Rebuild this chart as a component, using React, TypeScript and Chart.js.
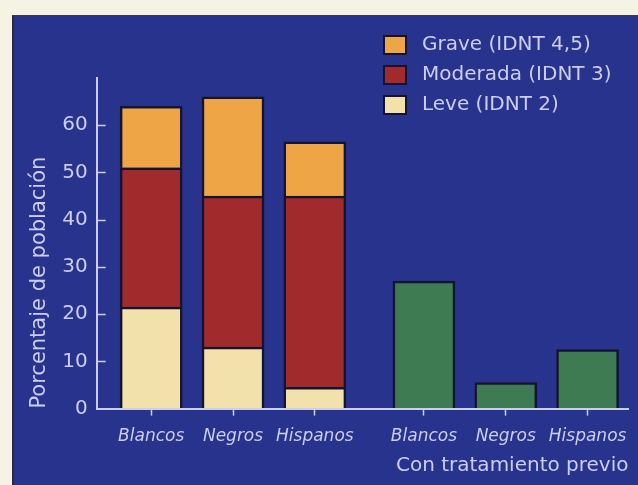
import React, { useEffect, useRef } from 'react';
import { Chart, registerables } from 'chart.js';

Chart.register(...registerables);

// ---- data ----
const categories = ['Blancos', 'Negros', 'Hispanos'];
const groupTitle = 'Con tratamiento previo';
const seriesNames = ['Leve (IDNT 2)', 'Moderada (IDNT 3)', 'Grave (IDNT 4,5)'];
const leve = [21.5, 13, 4.5];
const moderada = [29.5, 32, 40.5];
const grave = [13, 21, 11.5];
const previo = [27, 5.5, 12.5];
const yTickValues = [0, 10, 20, 30, 40, 50, 60];
const yAxisTitle = 'Porcentaje de población';

// ---- style ----
const PAGE_BG = '#f5f3e3';
const PANEL_BG = '#27338c';
const INK = '#cdcdf0';
const BAR_EDGE = '#141430';
const seriesColors = ['#f3e1ab', '#a12a2d', '#eea546'];
const previoColor = '#3e7a52';
const FONT = '"DejaVu Sans", sans-serif';

// slot layout: each bar is 3 slots apart, one extra slot between groups
const SLOT_STEP = 3;
const GROUP_GAP = 1;
const slotOf = (g: number, i: number) => g * (categories.length * SLOT_STEP + GROUP_GAP) + i * SLOT_STEP;
const allSlots = [...categories.map((_, i) => slotOf(0, i)), ...categories.map((_, i) => slotOf(1, i))];
const allLabels = [...categories, ...categories];

const legendPlugin = {
  id: 'boxLegend',
  afterDraw(chart: any) {
    const ctx = chart.ctx;
    ctx.save();
    const order = [2, 1, 0];
    const x0 = 385;
    const y0 = 45;
    const rowH = 30;
    order.forEach((si, r) => {
      const cy = y0 + r * rowH;
      ctx.fillStyle = BAR_EDGE;
      ctx.fillRect(x0 - 2, cy - 10, 24, 20);
      ctx.fillStyle = seriesColors[si];
      ctx.fillRect(x0, cy - 8, 20, 16);
      ctx.fillStyle = INK;
      ctx.font = `20px ${FONT}`;
      ctx.textBaseline = 'middle';
      ctx.textAlign = 'left';
      ctx.fillText(seriesNames[si], 422, cy);
    });
    ctx.restore();
  },
};

// inward tick marks on the y axis
const yTickMarks = {
  id: 'yTickMarks',
  afterDatasetsDraw(chart: any) {
    const ctx = chart.ctx;
    const y = chart.scales.y;
    const left = chart.chartArea.left;
    ctx.save();
    ctx.strokeStyle = INK;
    ctx.lineWidth = 1.5;
    yTickValues.filter((v) => v > 0).forEach((v) => {
      const py = Math.round(y.getPixelForValue(v)) + 0.5;
      ctx.beginPath();
      ctx.moveTo(left, py);
      ctx.lineTo(left + 9, py);
      ctx.stroke();
    });
    ctx.restore();
  },
};

export default function App() {
  const ref = useRef<HTMLCanvasElement | null>(null);
  useEffect(() => {
    if (!ref.current) return;
    const mk = (vals: number[], g: number) => vals.map((v, i) => ({ x: slotOf(g, i), y: v }));
    const common = { borderColor: BAR_EDGE, borderWidth: 2.5, barThickness: 62 };
    const chart = new Chart(ref.current, {
      type: 'bar',
      data: {
        datasets: [
          { label: seriesNames[0], data: mk(leve, 0), backgroundColor: seriesColors[0], ...common },
          { label: seriesNames[1], data: mk(moderada, 0), backgroundColor: seriesColors[1], ...common },
          { label: seriesNames[2], data: mk(grave, 0), backgroundColor: seriesColors[2], ...common },
          { label: groupTitle, data: mk(previo, 1), backgroundColor: previoColor, ...common },
        ] as any,
      },
      options: {
        responsive: false,
        animation: false,
        layout: { padding: { left: 27, right: 8, top: 78, bottom: 5 } },
        plugins: { legend: { display: false }, tooltip: { enabled: false } },
        scales: {
          x: {
            type: 'linear',
            stacked: true,
            offset: false,
            min: -2,
            max: 17.5,
            afterBuildTicks: (axis: any) => {
              axis.ticks = allSlots.map((v) => ({ value: v }));
            },
            ticks: {
              autoSkip: false,
              maxRotation: 0,
              color: INK,
              padding: 11,
              font: { family: FONT, size: 17, style: 'italic' },
              callback: (_v: any, idx: number) => allLabels[idx],
            },
            grid: { offset: false, drawOnChartArea: false, drawTicks: true, tickLength: 7, tickColor: INK, tickWidth: 1.5 },
            border: { display: true, color: INK, width: 2 },
            title: {
              display: true,
              text: groupTitle,
              align: 'end',
              color: INK,
              font: { family: FONT, size: 20 },
              padding: { top: -4, bottom: 2 },
            },
          },
          y: {
            type: 'linear',
            stacked: true,
            min: 0,
            max: 70,
            afterBuildTicks: (axis: any) => {
              axis.ticks = [...yTickValues, 70].map((v) => ({ value: v }));
            },
            ticks: {
              color: INK,
              padding: 9,
              font: { family: FONT, size: 20 },
              callback: (v: any) => (yTickValues.includes(v) ? String(v) : ''),
            },
            grid: { drawOnChartArea: false, drawTicks: false },
            border: { display: true, color: INK, width: 2 },
            title: {
              display: true,
              text: yAxisTitle,
              align: 'start',
              color: INK,
              font: { family: FONT, size: 21 },
              padding: { top: 0, bottom: 1 },
            },
          },
        },
      } as any,
      plugins: [yTickMarks, legendPlugin],
    });
    return () => chart.destroy();
  }, []);

  return (
    <div style={{ position: 'fixed', left: 0, top: 0, width: 638, height: 485, background: PAGE_BG, overflow: 'hidden' }}>
      <div
        style={{
          position: 'absolute',
          left: 12,
          top: 15,
          width: 626,
          height: 470,
          background: PANEL_BG,
          borderLeft: '2px solid #2a2a3a',
          borderTop: '1px solid #3a3a4a',
          boxSizing: 'border-box',
        }}
      />
      <canvas ref={ref} width={638} height={485} style={{ position: 'absolute', left: 0, top: 0, width: 638, height: 485 }} />
    </div>
  );
}
